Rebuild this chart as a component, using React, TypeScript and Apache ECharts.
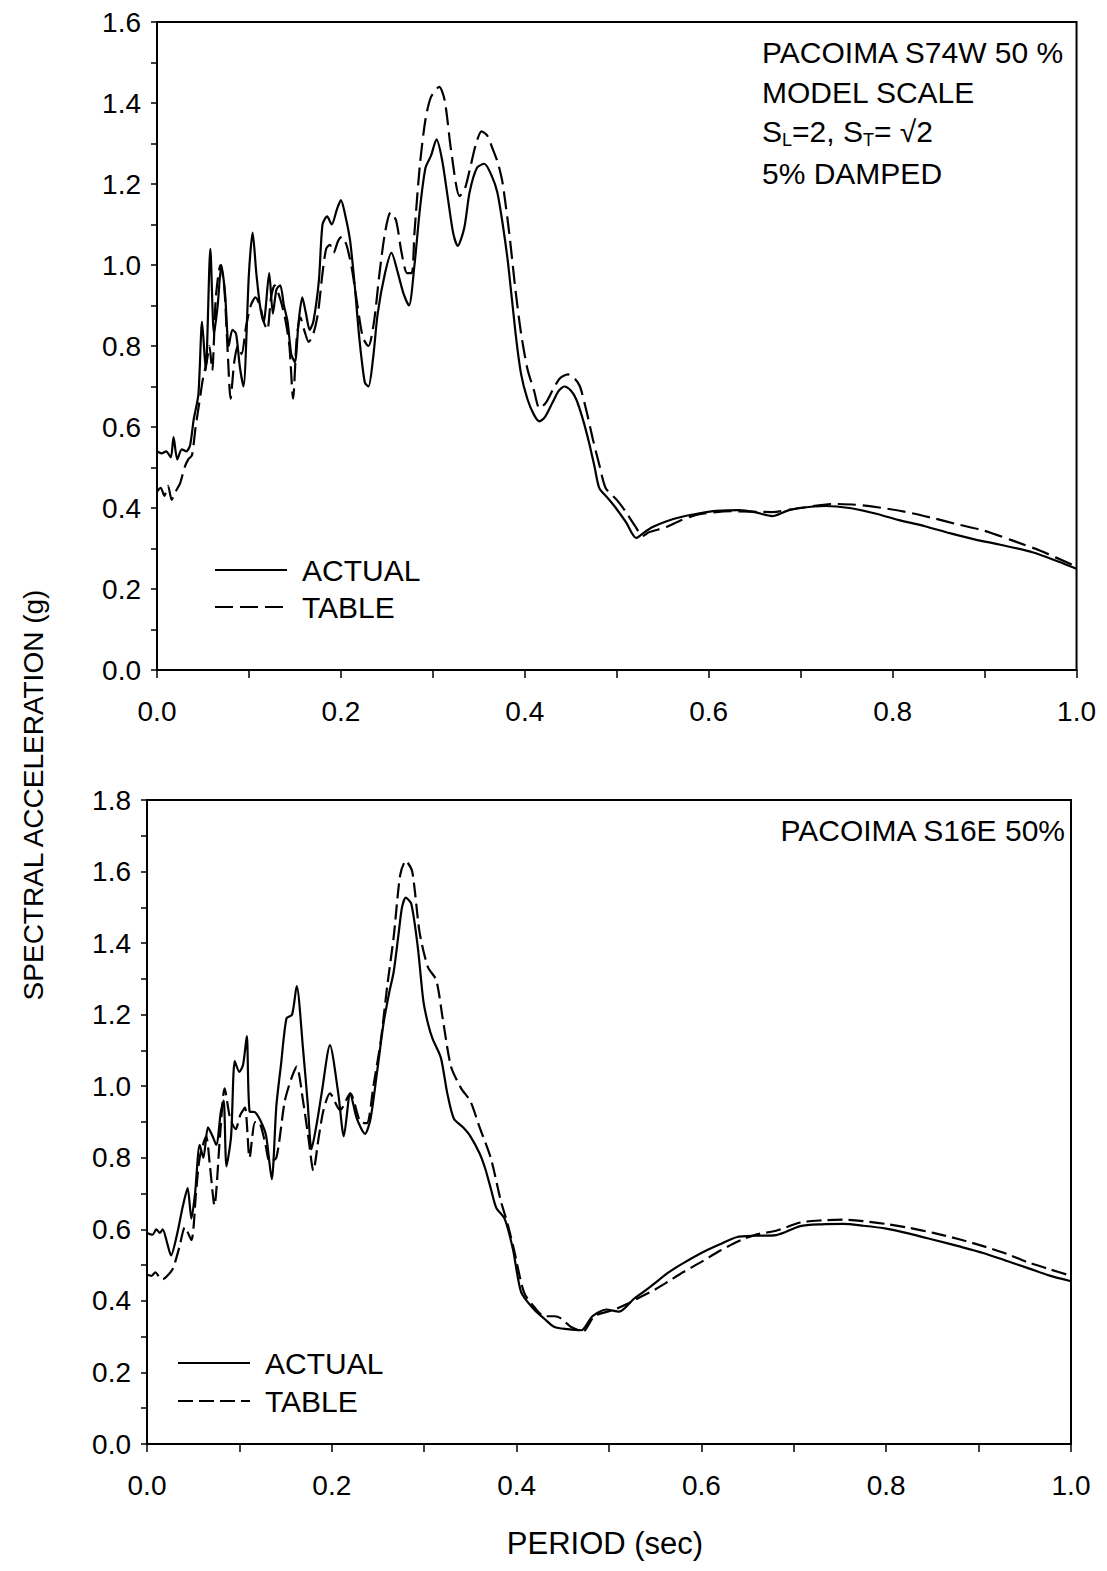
import React, { useEffect, useRef } from "react";
import * as echarts from "echarts";

// ---------- DATA ----------
// Top panel: PACOIMA S74W 50 %
const topActual: [number, number][] = [
  [0.0, 0.54], [0.005, 0.535], [0.01, 0.54], [0.015, 0.525], [0.018, 0.575], [0.022, 0.52],
  [0.027, 0.545], [0.032, 0.54], [0.036, 0.555], [0.04, 0.62], [0.045, 0.68], [0.049, 0.86],
  [0.053, 0.74], [0.058, 1.04], [0.062, 0.83], [0.066, 0.9], [0.07, 1.0], [0.074, 0.93],
  [0.078, 0.8], [0.082, 0.84], [0.086, 0.83], [0.09, 0.75], [0.094, 0.7], [0.1, 0.98],
  [0.104, 1.08], [0.108, 0.98], [0.112, 0.9], [0.116, 0.86], [0.122, 0.98], [0.126, 0.88],
  [0.13, 0.94], [0.134, 0.95], [0.138, 0.9], [0.142, 0.86], [0.146, 0.78], [0.15, 0.76],
  [0.154, 0.86], [0.158, 0.92], [0.162, 0.88], [0.166, 0.84], [0.17, 0.86], [0.176, 0.96],
  [0.18, 1.1], [0.185, 1.12], [0.19, 1.1], [0.196, 1.14], [0.2, 1.16], [0.205, 1.12],
  [0.21, 1.06], [0.215, 0.95], [0.22, 0.82], [0.226, 0.71], [0.23, 0.7], [0.235, 0.77],
  [0.24, 0.88], [0.248, 0.98], [0.255, 1.03], [0.262, 0.98], [0.268, 0.93], [0.274, 0.9],
  [0.28, 1.0], [0.286, 1.14], [0.292, 1.24], [0.298, 1.27], [0.304, 1.31], [0.31, 1.26],
  [0.316, 1.17], [0.322, 1.08], [0.327, 1.047], [0.334, 1.09], [0.34, 1.18], [0.348, 1.24],
  [0.356, 1.25], [0.364, 1.22], [0.37, 1.18], [0.376, 1.1], [0.382, 1.0], [0.39, 0.83],
  [0.396, 0.73], [0.403, 0.668], [0.41, 0.63], [0.416, 0.614], [0.422, 0.625], [0.43, 0.66],
  [0.437, 0.69], [0.443, 0.7], [0.45, 0.69], [0.456, 0.668], [0.463, 0.62], [0.47, 0.56],
  [0.476, 0.5], [0.481, 0.449], [0.49, 0.425], [0.499, 0.4], [0.51, 0.365], [0.521, 0.326],
  [0.53, 0.34], [0.539, 0.353], [0.555, 0.368], [0.572, 0.379], [0.59, 0.387], [0.608, 0.393],
  [0.633, 0.395], [0.65, 0.39], [0.669, 0.38], [0.685, 0.393], [0.698, 0.4], [0.727, 0.405],
  [0.753, 0.4], [0.78, 0.387], [0.807, 0.37], [0.835, 0.355], [0.862, 0.338], [0.89, 0.322],
  [0.916, 0.31], [0.953, 0.29], [0.98, 0.268], [1.0, 0.25],
];
const topTable: [number, number][] = [
  [0.0, 0.44], [0.004, 0.45], [0.008, 0.43], [0.012, 0.455], [0.016, 0.42], [0.02, 0.44],
  [0.025, 0.46], [0.03, 0.5], [0.034, 0.52], [0.038, 0.53], [0.042, 0.6], [0.046, 0.66],
  [0.05, 0.72], [0.054, 0.76], [0.057, 0.8], [0.06, 0.74], [0.064, 0.92], [0.069, 1.0],
  [0.073, 0.95], [0.077, 0.78], [0.08, 0.67], [0.084, 0.76], [0.088, 0.8], [0.092, 0.78],
  [0.097, 0.85], [0.102, 0.9], [0.107, 0.92], [0.112, 0.9], [0.116, 0.86], [0.12, 0.84],
  [0.124, 0.92], [0.128, 0.95], [0.132, 0.93], [0.136, 0.9], [0.14, 0.86], [0.144, 0.8],
  [0.148, 0.67], [0.152, 0.82], [0.156, 0.87], [0.16, 0.84], [0.165, 0.81], [0.17, 0.83],
  [0.175, 0.88], [0.18, 0.98], [0.184, 1.04], [0.188, 1.05], [0.192, 1.03], [0.197, 1.06],
  [0.201, 1.07], [0.206, 1.05], [0.212, 0.99], [0.218, 0.9], [0.224, 0.82], [0.23, 0.8],
  [0.236, 0.86], [0.242, 0.98], [0.248, 1.08], [0.254, 1.13], [0.26, 1.11], [0.266, 1.03],
  [0.272, 0.98], [0.277, 0.98], [0.28, 1.08], [0.286, 1.25], [0.292, 1.36], [0.298, 1.415],
  [0.307, 1.44], [0.313, 1.405], [0.32, 1.28], [0.329, 1.17], [0.335, 1.19], [0.34, 1.234],
  [0.347, 1.3], [0.353, 1.33], [0.359, 1.32], [0.365, 1.287], [0.371, 1.25], [0.376, 1.2],
  [0.383, 1.08], [0.39, 0.935], [0.396, 0.83], [0.403, 0.742], [0.41, 0.69], [0.416, 0.646],
  [0.423, 0.66], [0.43, 0.69], [0.438, 0.72], [0.447, 0.73], [0.454, 0.72], [0.46, 0.7],
  [0.467, 0.64], [0.474, 0.57], [0.481, 0.507], [0.488, 0.449], [0.5, 0.42], [0.51, 0.39],
  [0.52, 0.355], [0.528, 0.331], [0.535, 0.34], [0.554, 0.353], [0.57, 0.37], [0.59, 0.385],
  [0.626, 0.392], [0.669, 0.39], [0.7, 0.4], [0.735, 0.41], [0.76, 0.408], [0.789, 0.4],
  [0.815, 0.39], [0.844, 0.375], [0.87, 0.36], [0.898, 0.345], [0.93, 0.32], [0.96, 0.295],
  [1.0, 0.255],
];

// Bottom panel: PACOIMA S16E 50%
const bottomActual: [number, number][] = [
  [0.0, 0.59], [0.006, 0.585], [0.01, 0.6], [0.014, 0.59], [0.017, 0.6], [0.022, 0.56],
  [0.026, 0.527], [0.032, 0.58], [0.039, 0.667], [0.044, 0.715], [0.048, 0.63], [0.052, 0.7],
  [0.057, 0.836], [0.061, 0.8], [0.066, 0.885], [0.071, 0.86], [0.075, 0.836], [0.08, 0.93],
  [0.083, 0.96], [0.086, 0.776], [0.091, 0.86], [0.095, 1.07], [0.1, 1.04], [0.104, 1.06],
  [0.108, 1.14], [0.111, 0.93], [0.117, 0.927], [0.124, 0.897], [0.129, 0.86], [0.135, 0.74],
  [0.14, 0.945], [0.145, 1.06], [0.151, 1.19], [0.157, 1.2], [0.162, 1.28], [0.169, 1.1],
  [0.174, 0.95], [0.178, 0.824], [0.184, 0.9], [0.189, 0.98], [0.198, 1.115], [0.207, 0.98],
  [0.213, 0.86], [0.22, 0.98], [0.227, 0.91], [0.236, 0.867], [0.242, 0.91], [0.249, 1.04],
  [0.256, 1.176], [0.262, 1.26], [0.267, 1.32], [0.272, 1.42], [0.276, 1.5], [0.28, 1.527],
  [0.286, 1.51], [0.293, 1.39], [0.299, 1.24], [0.304, 1.176], [0.309, 1.133], [0.318, 1.08],
  [0.325, 0.98], [0.332, 0.91], [0.342, 0.885], [0.35, 0.86], [0.36, 0.812], [0.366, 0.77],
  [0.372, 0.715], [0.378, 0.66], [0.387, 0.63], [0.396, 0.545], [0.405, 0.424], [0.419, 0.376],
  [0.43, 0.35], [0.441, 0.327], [0.455, 0.321], [0.47, 0.318], [0.482, 0.357], [0.497, 0.376],
  [0.511, 0.37], [0.527, 0.406], [0.545, 0.44], [0.564, 0.479], [0.58, 0.505], [0.6, 0.534],
  [0.62, 0.558], [0.638, 0.578], [0.66, 0.582], [0.681, 0.584], [0.707, 0.609], [0.73, 0.614],
  [0.753, 0.615], [0.775, 0.61], [0.8, 0.602], [0.825, 0.588], [0.851, 0.571], [0.878, 0.553],
  [0.905, 0.534], [0.93, 0.512], [0.952, 0.493], [0.975, 0.472], [1.0, 0.455],
];
const bottomTable: [number, number][] = [
  [0.0, 0.473], [0.005, 0.47], [0.009, 0.48], [0.013, 0.468], [0.017, 0.46], [0.022, 0.47],
  [0.028, 0.49], [0.035, 0.55], [0.041, 0.606], [0.048, 0.57], [0.053, 0.7], [0.057, 0.8],
  [0.064, 0.86], [0.068, 0.78], [0.073, 0.667], [0.079, 0.86], [0.084, 0.994], [0.09, 0.91],
  [0.096, 0.88], [0.101, 0.92], [0.106, 0.94], [0.111, 0.8], [0.117, 0.9], [0.122, 0.897],
  [0.128, 0.84], [0.133, 0.788], [0.14, 0.8], [0.149, 0.957], [0.156, 1.02], [0.162, 1.055],
  [0.169, 0.957], [0.175, 0.85], [0.18, 0.764], [0.186, 0.86], [0.191, 0.933], [0.198, 0.98],
  [0.209, 0.933], [0.22, 0.98], [0.231, 0.9], [0.238, 0.897], [0.245, 1.0], [0.253, 1.127],
  [0.26, 1.28], [0.267, 1.418], [0.274, 1.59], [0.28, 1.63], [0.287, 1.6], [0.295, 1.43],
  [0.304, 1.333], [0.313, 1.297], [0.32, 1.19], [0.329, 1.055], [0.34, 0.994], [0.35, 0.958],
  [0.36, 0.885], [0.372, 0.8], [0.383, 0.679], [0.39, 0.618], [0.397, 0.545], [0.408, 0.424],
  [0.42, 0.38], [0.43, 0.357], [0.441, 0.357], [0.448, 0.351], [0.459, 0.327], [0.472, 0.315],
  [0.484, 0.357], [0.506, 0.376], [0.52, 0.392], [0.535, 0.412], [0.55, 0.432], [0.564, 0.454],
  [0.58, 0.48], [0.6, 0.509], [0.62, 0.54], [0.643, 0.57], [0.66, 0.586], [0.681, 0.596],
  [0.707, 0.619], [0.73, 0.625], [0.753, 0.627], [0.775, 0.623], [0.8, 0.615], [0.825, 0.604],
  [0.851, 0.59], [0.878, 0.573], [0.905, 0.553], [0.93, 0.532], [0.952, 0.509], [0.975, 0.49],
  [1.0, 0.47],
];

const topTitleLines = ["PACOIMA S74W 50 %", "MODEL SCALE", "S{sub|L}=2, S{sub|T}= √2", "5% DAMPED"];
const bottomTitle = "PACOIMA S16E 50%";
const legendNames = ["ACTUAL", "TABLE"];
const yAxisTitle = "SPECTRAL ACCELERATION (g)";
const xAxisTitle = "PERIOD (sec)";

const FONT = "'Liberation Sans', Arial, Helvetica, sans-serif";

export default function App() {
  const ref = useRef<HTMLDivElement>(null);

  useEffect(() => {
    if (!ref.current) return;
    const chart = echarts.init(ref.current, undefined, { renderer: "svg" });

    const mkX = (gridIndex: number) => ({
      type: "value" as const,
      gridIndex,
      min: 0,
      max: 1,
      interval: 0.2,
      axisLine: { show: true, onZero: false, lineStyle: { color: "#000", width: 2 } },
      axisTick: { show: true, inside: false, length: 8, lineStyle: { color: "#000", width: 1.5 } },
      minorTick: { show: true, splitNumber: 2, length: 8, lineStyle: { color: "#000", width: 1.5 } },
      axisLabel: {
        color: "#000",
        fontFamily: FONT,
        fontSize: 28,
        margin: 27,
        formatter: (v: number) => v.toFixed(1),
      },
      splitLine: { show: false },
    });
    const mkY = (gridIndex: number, max: number) => ({
      type: "value" as const,
      gridIndex,
      min: 0,
      max,
      interval: 0.2,
      axisLine: { show: true, onZero: false, lineStyle: { color: "#000", width: 2 } },
      axisTick: { show: true, inside: false, length: 6, lineStyle: { color: "#000", width: 1.5 } },
      minorTick: { show: true, splitNumber: 2, length: 6, lineStyle: { color: "#000", width: 1.5 } },
      axisLabel: {
        color: "#000",
        fontFamily: FONT,
        fontSize: 28,
        margin: 16,
        formatter: (v: number) => v.toFixed(1),
      },
      splitLine: { show: false },
    });

    const lineSeries = (data: [number, number][], idx: number, dashed: number[] | null) => ({
      type: "line" as const,
      xAxisIndex: idx,
      yAxisIndex: idx,
      data,
      showSymbol: false,
      symbol: "none",
      smooth: 0.25,
      lineStyle: {
        color: "#000",
        width: 2.2,
        type: dashed ? dashed : "solid",
      },
      z: 3,
    });

    const legendGraphic = (x: number, y1: number, y2: number, textX: number, dash: number[]) => [
      {
        type: "line",
        shape: { x1: x, y1, x2: x + 72, y2: y1 },
        style: { stroke: "#000", lineWidth: 2 },
      },
      {
        type: "line",
        shape: { x1: x, y1: y2, x2: x + 72, y2 },
        style: { stroke: "#000", lineWidth: 2, lineDash: dash },
      },
      {
        type: "text",
        x: textX,
        y: y1,
        style: { text: legendNames[0], font: `30px ${FONT}`, fill: "#000", textVerticalAlign: "middle" },
      },
      {
        type: "text",
        x: textX,
        y: y2,
        style: { text: legendNames[1], font: `30px ${FONT}`, fill: "#000", textVerticalAlign: "middle" },
      },
    ];

    const option: any = {
      animation: false,
      backgroundColor: "#fff",
      grid: [
        { left: 149, top: 14, width: 920, height: 648, show: true, borderColor: "#000", borderWidth: 2, backgroundColor: "transparent" },
        { left: 139, top: 792, width: 924, height: 644, show: true, borderColor: "#000", borderWidth: 2, backgroundColor: "transparent" },
      ],
      xAxis: [mkX(0), mkX(1)],
      yAxis: [mkY(0, 1.6), mkY(1, 1.8)],
      series: [
        lineSeries(topActual, 0, null),
        lineSeries(topTable, 0, [18, 7]),
        lineSeries(bottomActual, 1, null),
        lineSeries(bottomTable, 1, [15, 6]),
      ],
      graphic: [
        ...topTitleLines.map((t, i) => ({
          type: "text",
          x: 754,
          y: [44, 84, 123, 165][i],
          style: {
            text: t,
            font: `30px ${FONT}`,
            fill: "#000",
            textVerticalAlign: "middle",
            rich: {
              sub: { fontSize: 18, fontFamily: FONT, padding: [18, 0, 0, 0], fill: "#000" },
            },
          },
        })),
        {
          type: "text",
          x: 1057,
          y: 822,
          style: {
            text: bottomTitle,
            font: `30px ${FONT}`,
            fill: "#000",
            textAlign: "right",
            textVerticalAlign: "middle",
          },
        },
        ...legendGraphic(207, 562, 599, 294, [18, 7]),
        ...legendGraphic(170, 1355, 1393, 257, [15, 6]),
        {
          type: "text",
          x: 25,
          y: 787,
          rotation: Math.PI / 2,
          style: {
            text: yAxisTitle,
            font: `28px ${FONT}`,
            fill: "#000",
            textAlign: "center",
            textVerticalAlign: "middle",
          },
        },
        {
          type: "text",
          x: 597,
          y: 1535,
          style: {
            text: xAxisTitle,
            font: `31px ${FONT}`,
            fill: "#000",
            textAlign: "center",
            textVerticalAlign: "middle",
          },
        },
      ],
    };

    chart.setOption(option);
    return () => chart.dispose();
  }, []);

  return <div ref={ref} style={{ width: 1091, height: 1555 }} />;
}
